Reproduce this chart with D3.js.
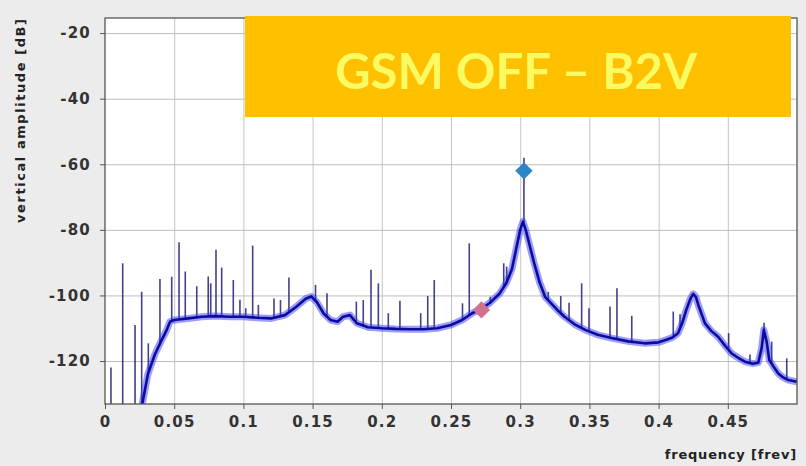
<!DOCTYPE html>
<html>
<head>
<meta charset="utf-8">
<script src="https://cdn.jsdelivr.net/npm/d3@7"></script>
<style>
  body { margin: 0; background: #ececec; }
  svg { display: block; }
</style>
</head>
<body>
<script>
const width = 806;
const height = 466;
const plotLeft = 105, plotRight = 797, plotTop = 18, plotBottom = 404;

// axis ticks
const xTicks = [0, 0.05, 0.1, 0.15, 0.2, 0.25, 0.3, 0.35, 0.4, 0.45];
const yTicks = [-20, -40, -60, -80, -100, -120];

// smooth part of the spectrum (noise floor)
const baseFreq = [0.0265, 0.031, 0.036, 0.0405, 0.0446, 0.047, 0.05, 0.06, 0.07, 0.08, 0.09, 0.1,
    0.11, 0.12, 0.13, 0.138, 0.145, 0.149, 0.153, 0.158, 0.163, 0.168, 0.172, 0.177, 0.182, 0.19,
    0.2, 0.21, 0.22, 0.23, 0.24, 0.25, 0.258, 0.265, 0.272, 0.278, 0.285, 0.29, 0.294, 0.297, 0.3,
    0.302, 0.304, 0.307, 0.31, 0.314, 0.318, 0.3215, 0.327, 0.332, 0.34, 0.347, 0.356, 0.366, 0.378,
    0.39, 0.4, 0.405, 0.41, 0.414, 0.417, 0.42, 0.423, 0.425, 0.427, 0.4287, 0.4335, 0.438, 0.443,
    0.448, 0.4528, 0.4575, 0.4624, 0.468, 0.472, 0.4745, 0.476, 0.478, 0.48, 0.4835, 0.4865, 0.49,
    0.4937, 0.5];
const baseDb = [-134, -124, -118, -114, -110.5, -108, -107.5, -107, -106.5, -106.3, -106.5, -106.5,
    -106.8, -107, -106, -103.5, -101, -100.3, -102, -105.5, -107.5, -108, -106.5, -106, -108.5, -109.7,
    -110, -110.2, -110.3, -110.3, -110, -109, -107.5, -105.5, -104, -102.3, -99.5, -96.2, -92, -86, -80,
    -77.5, -80, -85, -90, -96, -100.4, -102, -104.5, -106.5, -109, -110.5, -112, -113, -114,
    -114.6, -114.3, -113.6, -112.8, -111.5, -108.5, -104.4, -101, -99.5, -100.5, -102.9, -108.5, -110.8, -112.6,
    -115.3, -117.7, -119, -120.2, -120.8, -120.5, -116, -110.5, -114, -119.7, -122, -123.8, -125,
    -125.8, -126.3];

// narrow lines sticking out of the floor
const spikeFreq = [0.0043, 0.0128, 0.0217, 0.0265, 0.0313, 0.0397, 0.0482, 0.0535, 0.058, 0.0663,
    0.0746, 0.0764, 0.0802, 0.0843, 0.0927, 0.0975, 0.1017, 0.1067, 0.1108, 0.1221, 0.1268, 0.1329,
    0.1521, 0.1604, 0.1816, 0.1866, 0.1922, 0.1975, 0.2047, 0.2131, 0.2281, 0.2332, 0.2379, 0.2583,
    0.2632, 0.2784, 0.2881, 0.2902, 0.3027, 0.3203, 0.3293, 0.3353, 0.3444, 0.3497, 0.3649, 0.3699,
    0.3806, 0.4106, 0.4155, 0.4506, 0.466, 0.4762, 0.4817, 0.4926];
const spikeDb = [-122, -90.2, -109, -98.9, -114.6, -95, -94.3, -83.8, -92.7, -97.2,
    -94.2, -96.3, -86.1, -91.5, -95.3, -101.3, -103.9, -84.8, -102.9, -100.9, -101.4, -94.5,
    -96.8, -99.3, -101.9, -101.4, -92.2, -96.3, -105.4, -101.6, -105.4, -100.2, -95.3, -102.4,
    -84.1, -100.4, -90.2, -91.2, -58, -98.9, -100.2, -102.2, -96.3, -103.9, -103.4, -97.8,
    -106.2, -104.9, -105.7, -111.5, -118, -108.3, -114.1, -119.2];

// markers
const markerFreq = [0.3027, 0.272];
const markerDb = [-62, -104.4];
const markerColor = ["#2a86c6", "#d3708e"];

const titleText = "GSM OFF \u2013 B2V";

const svg = d3.select("body")
    .append("svg")
    .attr("width", width)
    .attr("height", height);

svg.append("rect")
    .attr("width", width)
    .attr("height", height)
    .attr("fill", "#ececec");

const xScale = d3.scaleLinear().domain([0, 0.5]).range([plotLeft, plotRight]);
const yScale = d3.scaleLinear().domain([-133.1, -15.4]).range([plotBottom, plotTop]);

// floor level under each spike
const floorAt = d3.scaleLinear().domain(baseFreq).range(baseDb).clamp(true);

svg.append("rect")
    .attr("x", plotLeft)
    .attr("y", plotTop)
    .attr("width", plotRight - plotLeft)
    .attr("height", plotBottom - plotTop)
    .attr("fill", "#ffffff");

svg.append("defs").append("clipPath")
    .attr("id", "clip")
    .append("rect")
    .attr("x", plotLeft)
    .attr("y", plotTop)
    .attr("width", plotRight - plotLeft)
    .attr("height", plotBottom - plotTop);

// grid
svg.append("g")
    .attr("transform", `translate(0,${plotBottom})`)
    .call(d3.axisBottom(xScale).tickValues(xTicks.slice(1)).tickSize(-(plotBottom - plotTop)).tickFormat(""))
    .call(g => g.select(".domain").remove())
    .selectAll("line").attr("stroke", "#c4c4c4");

svg.append("g")
    .attr("transform", `translate(${plotLeft},0)`)
    .call(d3.axisLeft(yScale).tickValues(yTicks).tickSize(-(plotRight - plotLeft)).tickFormat(""))
    .call(g => g.select(".domain").remove())
    .selectAll("line").attr("stroke", "#bdbdbd");

const plot = svg.append("g").attr("clip-path", "url(#clip)");

// spikes
plot.selectAll("line.spike")
    .data(spikeFreq)
    .enter()
    .append("line")
    .attr("class", "spike")
    .attr("x1", d => xScale(d))
    .attr("x2", d => xScale(d))
    .attr("y1", d => yScale(Math.max(floorAt(d), -134)))
    .attr("y2", (d, i) => yScale(spikeDb[i]))
    .attr("stroke", "#20207a")
    .attr("stroke-width", 1.6)
    .attr("opacity", 0.85);

const base = baseFreq.map((f, i) => [f, baseDb[i]]);
const line = d3.line()
    .x(d => xScale(d[0]))
    .y(d => yScale(d[1]));

plot.append("path")
    .datum(base)
    .attr("d", line)
    .attr("fill", "none")
    .attr("stroke", "#3a3af5")
    .attr("stroke-width", 7)
    .attr("stroke-linejoin", "round")
    .attr("opacity", 0.5);

plot.append("path")
    .datum(base)
    .attr("d", line)
    .attr("fill", "none")
    .attr("stroke", "#0c0c9c")
    .attr("stroke-width", 2.6)
    .attr("stroke-linejoin", "round");

// markers
plot.selectAll("path.marker")
    .data(markerFreq)
    .enter()
    .append("path")
    .attr("class", "marker")
    .attr("d", d3.symbol().type(d3.symbolSquare).size(150))
    .attr("transform", (d, i) => `translate(${xScale(d)},${yScale(markerDb[i])}) rotate(45)`)
    .attr("fill", (d, i) => markerColor[i]);

// frame
svg.append("rect")
    .attr("x", plotLeft)
    .attr("y", plotTop)
    .attr("width", plotRight - plotLeft)
    .attr("height", plotBottom - plotTop)
    .attr("fill", "none")
    .attr("stroke", "#555555")
    .attr("stroke-width", 1.3);

// axes
const xAxis = svg.append("g")
    .attr("transform", `translate(0,${plotBottom})`)
    .call(d3.axisBottom(xScale).tickValues(xTicks).tickSize(5).tickPadding(7).tickFormat(d => String(d)));
const yAxis = svg.append("g")
    .attr("transform", `translate(${plotLeft},0)`)
    .call(d3.axisLeft(yScale).tickValues(yTicks).tickSize(5).tickPadding(9).tickFormat(d => "-" + Math.abs(d)));

[xAxis, yAxis].forEach(a => {
    a.select(".domain").remove();
    a.selectAll("line").attr("stroke", "#555555");
    a.selectAll("text")
        .attr("fill", "#333333")
        .style("font-family", "DejaVu Sans, sans-serif")
        .style("font-weight", "bold")
        .style("font-size", "15px")
        .style("letter-spacing", "1.2px");
});

svg.append("text")
    .attr("transform", "translate(25,121) rotate(-90)")
    .attr("text-anchor", "middle")
    .attr("textLength", 204)
    .attr("lengthAdjust", "spacing")
    .style("font-family", "DejaVu Sans, sans-serif")
    .style("font-weight", "bold")
    .style("font-size", "13px")
    .attr("fill", "#222222")
    .text("vertical amplitude [dB]");

svg.append("text")
    .attr("x", 797)
    .attr("y", 459)
    .attr("text-anchor", "end")
    .style("font-family", "DejaVu Sans, sans-serif")
    .style("font-weight", "bold")
    .style("font-size", "13px")
    .style("letter-spacing", "0.8px")
    .attr("fill", "#222222")
    .text("frequency [frev]");

// title box
svg.append("rect")
    .attr("x", 245)
    .attr("y", 16)
    .attr("width", 546)
    .attr("height", 101)
    .attr("fill", "#ffc000");

svg.append("text")
    .attr("x", 516)
    .attr("y", 89)
    .attr("text-anchor", "middle")
    .attr("textLength", 362)
    .attr("lengthAdjust", "spacingAndGlyphs")
    .style("font-family", "Lato, 'Open Sans', sans-serif")
    .style("font-weight", "bold")
    .style("font-size", "50px")
    .attr("fill", "#fafa62")
    .text(titleText);
</script>
</body>
</html>
